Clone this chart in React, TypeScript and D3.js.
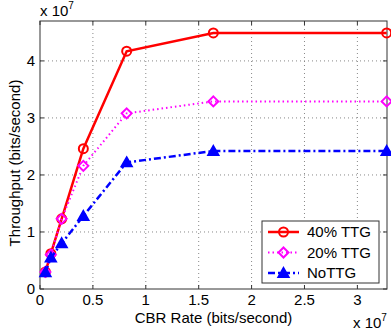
import * as d3 from "d3";

// x values are CBR rate in units of 1e7 bits/second
const rates = [0.0512, 0.1024, 0.2048, 0.4096, 0.8192, 1.6384, 3.2768];
const ttg40 = [0.3, 0.62, 1.23, 2.46, 4.17, 4.49, 4.49];
const ttg20 = [0.3, 0.6, 1.23, 2.16, 3.08, 3.29, 3.29];
const noTtg = [0.29, 0.55, 0.8, 1.28, 2.22, 2.42, 2.42];
const xTicks = [0, 0.5, 1, 1.5, 2, 2.5, 3];
const yTicks = [0, 1, 2, 3, 4];

const series = [
  { name: "40% TTG", values: ttg40, color: "#ff0000", dash: "none", width: 2.5, marker: "circle" },
  { name: "20% TTG", values: ttg20, color: "#ff00ff", dash: "1.5 3", width: 2, marker: "diamond" },
  { name: "NoTTG", values: noTtg, color: "#0000ff", dash: "7 3 2 3", width: 2.5, marker: "triangle" },
];

const font = "Arial, 'Liberation Sans', sans-serif";

function Marker({ kind, cx, cy, color }: { kind: string; cx: number; cy: number; color: string }) {
  if (kind === "circle") {
    return <circle cx={cx} cy={cy} r={4.5} fill="none" stroke={color} strokeWidth={2} />;
  }
  if (kind === "diamond") {
    const r = 5;
    return (
      <path
        d={`M${cx},${cy - r}L${cx + r},${cy}L${cx},${cy + r}L${cx - r},${cy}Z`}
        fill="none"
        stroke={color}
        strokeWidth={2}
      />
    );
  }
  const r = 5.5;
  return (
    <path
      d={`M${cx},${cy - r}L${cx + r},${cy + r * 0.75}L${cx - r},${cy + r * 0.75}Z`}
      fill={color}
      stroke={color}
      strokeWidth={1.5}
    />
  );
}

export default function App() {
  const width = 391;
  const height = 333;
  const margin = { top: 21, right: 4, bottom: 44, left: 40 };
  const plotW = width - margin.left - margin.right;
  const plotH = height - margin.top - margin.bottom;

  const x = d3.scaleLinear([0, 3.28], [margin.left, margin.left + plotW]);
  const y = d3.scaleLinear([0, 4.7], [margin.top + plotH, margin.top]);
  const line = d3
    .line<number>()
    .x((_, i) => x(rates[i]))
    .y((d) => y(d));

  const legend = { x: 262, y: 221, w: 117, h: 62 };

  return (
    <svg
      width={width}
      height={height}
      viewBox={`0 0 ${width} ${height}`}
      style={{ position: "absolute", left: 0, top: 0, background: "#fff" }}
    >
      <rect x={margin.left} y={margin.top} width={plotW} height={plotH} fill="#fff" />
      {xTicks.map((t) => (
        <g key={`x${t}`}>
          {t > 0 && (
            <line
              x1={x(t)}
              x2={x(t)}
              y1={margin.top}
              y2={margin.top + plotH}
              stroke="#888"
              strokeWidth={1}
              strokeDasharray="1 3"
            />
          )}
          <line x1={x(t)} x2={x(t)} y1={margin.top + plotH} y2={margin.top + plotH - 4} stroke="#333" />
          <line x1={x(t)} x2={x(t)} y1={margin.top} y2={margin.top + 4} stroke="#333" />
          <text
            x={x(t)}
            y={margin.top + plotH + 16}
            textAnchor="middle"
            fontFamily={font}
            fontSize={15}
            fill="#000"
          >
            {t}
          </text>
        </g>
      ))}
      {yTicks.map((t) => (
        <g key={`y${t}`}>
          {t > 0 && (
            <line
              x1={margin.left}
              x2={margin.left + plotW}
              y1={y(t)}
              y2={y(t)}
              stroke="#888"
              strokeWidth={1}
              strokeDasharray="1 3"
            />
          )}
          <line x1={margin.left} x2={margin.left + 4} y1={y(t)} y2={y(t)} stroke="#333" />
          <line x1={margin.left + plotW} x2={margin.left + plotW - 4} y1={y(t)} y2={y(t)} stroke="#333" />
          <text
            x={margin.left - 5}
            y={y(t) + 5}
            textAnchor="end"
            fontFamily={font}
            fontSize={15}
            fill="#000"
          >
            {t}
          </text>
        </g>
      ))}
      <rect
        x={margin.left}
        y={margin.top}
        width={plotW}
        height={plotH}
        fill="none"
        stroke="#333"
        strokeWidth={1}
      />
      {series.map((s) => (
        <g key={s.name}>
          <path
            d={line(s.values) ?? ""}
            fill="none"
            stroke={s.color}
            strokeWidth={s.width}
            strokeDasharray={s.dash}
          />
          {s.values.map((v, i) => (
            <Marker key={i} kind={s.marker} cx={x(rates[i])} cy={y(v)} color={s.color} />
          ))}
        </g>
      ))}
      <g>
        <rect
          x={legend.x}
          y={legend.y}
          width={legend.w}
          height={legend.h}
          fill="#fff"
          stroke="#333"
          strokeWidth={1}
        />
        {series.map((s, i) => {
          const ly = legend.y + 11 + i * 20.5;
          return (
            <g key={s.name}>
              <line
                x1={legend.x + 6}
                x2={legend.x + 37}
                y1={ly}
                y2={ly}
                stroke={s.color}
                strokeWidth={s.width}
                strokeDasharray={s.dash}
              />
              <Marker kind={s.marker} cx={legend.x + 21.5} cy={ly} color={s.color} />
              <text x={legend.x + 45} y={ly + 5} fontFamily={font} fontSize={15} fill="#000">
                {s.name}
              </text>
            </g>
          );
        })}
      </g>
      <text x={margin.left} y={16} fontFamily={font} fontSize={15} fill="#000">
        x 10<tspan dy={-7} fontSize={10}>7</tspan>
      </text>
      <text x={353} y={328} fontFamily={font} fontSize={15} fill="#000">
        x 10<tspan dy={-7} fontSize={10}>7</tspan>
      </text>
      <text
        x={margin.left + plotW / 2}
        y={323}
        textAnchor="middle"
        fontFamily={font}
        fontSize={15}
        fill="#000"
      >
        CBR Rate (bits/second)
      </text>
      <text
        x={20}
        y={163}
        textAnchor="middle"
        fontFamily={font}
        fontSize={15}
        fill="#000"
        transform="rotate(-90 20 163)"
      >
        Throughput (bits/second)
      </text>
    </svg>
  );
}
